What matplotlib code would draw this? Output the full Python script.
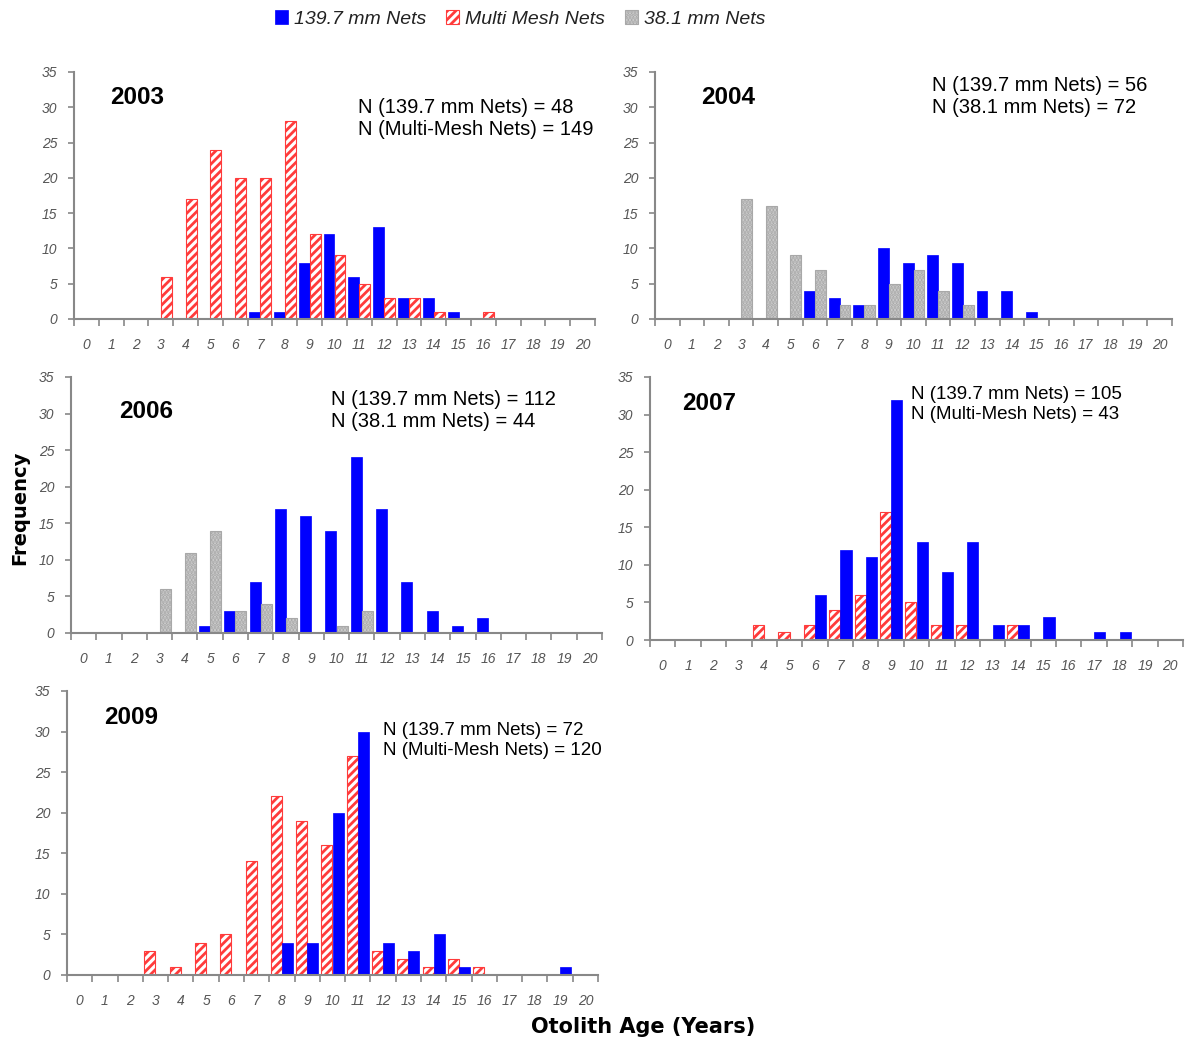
import numpy as np
import matplotlib
matplotlib.use('Agg')
import matplotlib.pyplot as plt
from matplotlib.patches import Patch

plt.rcParams['font.family'] = ['Liberation Sans', 'DejaVu Sans']
plt.rcParams['hatch.linewidth'] = 2.0

ages = list(range(21))

# 139.7 mm nets
big_2003 = {7: 1, 8: 1, 9: 8, 10: 12, 11: 6, 12: 13, 13: 3, 14: 3, 15: 1}
big_2004 = {6: 4, 7: 3, 8: 2, 9: 10, 10: 8, 11: 9, 12: 8, 13: 4, 14: 4, 15: 1}
big_2006 = {5: 1, 6: 3, 7: 7, 8: 17, 9: 16, 10: 14, 11: 24, 12: 17, 13: 7, 14: 3, 15: 1, 16: 2}
big_2007 = {6: 6, 7: 12, 8: 11, 9: 32, 10: 13, 11: 9, 12: 13, 13: 2, 14: 2, 15: 3, 17: 1, 18: 1}
big_2009 = {8: 4, 9: 4, 10: 20, 11: 30, 12: 4, 13: 3, 14: 5, 15: 1, 19: 1}

# multi mesh nets
multi_2003 = {3: 6, 4: 17, 5: 24, 6: 20, 7: 20, 8: 28, 9: 12, 10: 9, 11: 5, 12: 3, 13: 3, 14: 1, 16: 1}
multi_2007 = {4: 2, 5: 1, 6: 2, 7: 4, 8: 6, 9: 17, 10: 5, 11: 2, 12: 2, 14: 2}
multi_2009 = {3: 3, 4: 1, 5: 4, 6: 5, 7: 14, 8: 22, 9: 19, 10: 16, 11: 27, 12: 3, 13: 2, 14: 1, 15: 2, 16: 1}

# 38.1 mm nets
small_2004 = {3: 17, 4: 16, 5: 9, 6: 7, 7: 2, 8: 2, 9: 5, 10: 7, 11: 4, 12: 2}
small_2006 = {3: 6, 4: 11, 5: 14, 6: 3, 7: 4, 8: 2, 10: 1, 11: 3}

n_texts = {
    '2003': ['N (139.7 mm Nets) = 48', 'N (Multi-Mesh Nets) = 149'],
    '2004': ['N (139.7 mm Nets) = 56', 'N (38.1 mm Nets) = 72'],
    '2006': ['N (139.7 mm Nets) = 112', 'N (38.1 mm Nets) = 44'],
    '2007': ['N (139.7 mm Nets) = 105', 'N (Multi-Mesh Nets) = 43'],
    '2009': ['N (139.7 mm Nets) = 72', 'N (Multi-Mesh Nets) = 120'],
}

W, H = 1191, 1042
fig = plt.figure(figsize=(W / 100, H / 100), dpi=100)

styles = {
    'big': dict(facecolor='#0000ff', edgecolor='#0000ff', linewidth=0.5),
    'multi': dict(facecolor='white', edgecolor='#ff3b3b', hatch='////', linewidth=0.8),
    'small': dict(facecolor='#d2d2d2', edgecolor='#a8a8a8', hatch='.....', linewidth=0.8),
}


def vals(d):
    return [d.get(a, 0) for a in ages]


def add_panel(px, year, first, second, text_pos, year_pos, nsize=14.5):
    # px = (left, right, top, bottom) in pixels
    l, r, t, b = px
    ax = fig.add_axes([l / W, 1 - b / H, (r - l) / W, (b - t) / H])
    x = np.array(ages)
    bw = 0.44
    for off, (key, data) in zip([-0.22, 0.22], [first, second]):
        v = np.array(vals(data))
        m = v > 0
        ax.bar(x[m] + off, v[m], width=bw, **styles[key])
    ax.set_xlim(-0.5, 20.5)
    ax.set_ylim(0, 35)
    ax.set_yticks(range(0, 36, 5))
    ax.set_xticks(ages)
    ax.set_xticks(np.arange(-0.5, 21, 1), minor=True)
    ax.tick_params(axis='x', which='major', length=0, pad=14)
    ax.tick_params(axis='x', which='minor', length=5, color='#888888', width=1.2, direction='out')
    ax.tick_params(axis='y', length=4, color='#888888', width=1.2, pad=8)
    for lab in ax.get_xticklabels() + ax.get_yticklabels():
        lab.set_fontstyle('italic')
        lab.set_fontsize(10)
        lab.set_color('#555555')
    for s in ['top', 'right']:
        ax.spines[s].set_visible(False)
    for s in ['left', 'bottom']:
        ax.spines[s].set_color('#888888')
        ax.spines[s].set_linewidth(1.5)
    ax.text(year_pos[0], year_pos[1], year, transform=ax.transAxes,
            fontsize=17.5, fontweight='bold', va='center', ha='left')
    ax.text(text_pos[0], text_pos[1], '\n'.join(n_texts[year]), transform=ax.transAxes,
            fontsize=nsize, va='top', ha='left', linespacing=1.2)
    return ax


add_panel((74, 595, 72, 319), '2003', ('big', big_2003), ('multi', multi_2003),
          (0.545, 0.895), (0.07, 0.895))
add_panel((655, 1172, 72, 319), '2004', ('big', big_2004), ('small', small_2004),
          (0.535, 0.985), (0.09, 0.895))
add_panel((71, 602, 377, 633), '2006', ('big', big_2006), ('small', small_2006),
          (0.49, 0.95), (0.09, 0.865))
add_panel((650, 1183, 377, 640), '2007', ('multi', multi_2007), ('big', big_2007),
          (0.49, 0.965), (0.06, 0.9), nsize=13.5)
add_panel((67, 598, 691, 975), '2009', ('multi', multi_2009), ('big', big_2009),
          (0.595, 0.89), (0.07, 0.905), nsize=13.5)

fig.text(20 / W, 1 - 508 / H, 'Frequency', rotation=90, fontsize=14, fontweight='bold',
         family='DejaVu Sans', ha='center', va='center')
fig.text(643 / W, 1 - 1027 / H, 'Otolith Age (Years)', fontsize=15, fontweight='bold',
         family='DejaVu Sans', ha='center', va='center')

handles = [Patch(label='139.7 mm Nets', **styles['big']),
           Patch(label='Multi Mesh Nets', **styles['multi']),
           Patch(label='38.1 mm Nets', **styles['small'])]
leg = fig.legend(handles=handles, loc='center', bbox_to_anchor=(520 / W, 1 - 19 / H),
                 ncol=3, frameon=False, handlelength=0.7, handleheight=0.7,
                 handletextpad=0.3, columnspacing=1.0,
                 prop={'style': 'italic', 'size': 14})
for txt in leg.get_texts():
    txt.set_color('#222222')

fig.savefig('out.png', dpi=100)
